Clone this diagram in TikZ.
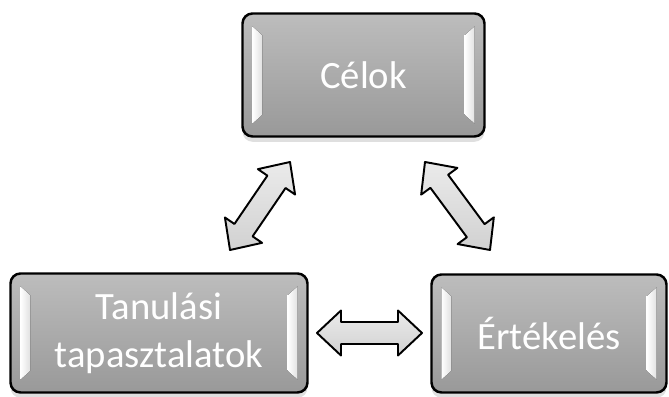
\documentclass[tikz,border=0pt]{standalone}
\usepackage{fontspec}
\setmainfont{Carlito}
\usepackage{tikz}
\usetikzlibrary{calc,shadows}

\newcommand{\arrhl}{0.48cm} % head length
\newcommand{\arrhw}{0.45cm} % half width of head
\newcommand{\arrsw}{0.22cm} % half width of shaft

% fat double arrow between two named points
\newcommand{\fatarrow}[2]{%
  \draw[fatarrow] (#1) -- ($(#1)!\arrhl!(#2)!\arrhw!90:(#2)$)
    -- ($(#1)!\arrhl!(#2)!\arrsw!90:(#2)$)
    -- ($(#2)!\arrhl!(#1)!\arrsw!-90:(#1)$)
    -- ($(#2)!\arrhl!(#1)!\arrhw!-90:(#1)$)
    -- (#2)
    -- ($(#2)!\arrhl!(#1)!\arrhw!90:(#1)$)
    -- ($(#2)!\arrhl!(#1)!\arrsw!90:(#1)$)
    -- ($(#1)!\arrhl!(#2)!\arrsw!-90:(#2)$)
    -- ($(#1)!\arrhl!(#2)!\arrhw!-90:(#2)$)
    -- cycle;}

% white bevel strips inside a box
\newcommand{\bevel}[1]{%
  \fill[left color=white, right color=black!12]
    ($(#1.north west)+(0.22,-0.28)$) -- ($(#1.north west)+(0.42,-0.46)$)
    -- ($(#1.south west)+(0.42,0.46)$) -- ($(#1.south west)+(0.22,0.28)$) -- cycle;
  \fill[left color=white, right color=black!12]
    ($(#1.north east)+(-0.22,-0.28)$) -- ($(#1.north east)+(-0.42,-0.46)$)
    -- ($(#1.south east)+(-0.42,0.46)$) -- ($(#1.south east)+(-0.22,0.28)$) -- cycle;}

\begin{document}
\begin{tikzpicture}[
            box/.style = {shape=rectangle, rounded corners=0.2cm,
                draw=black, line width=1.4pt,
                top color=black!26, bottom color=black!40,
                drop shadow={shadow xshift=0pt, shadow yshift=-3pt, opacity=0.25},
                text=white, align=center,
                font=\fontsize{22}{27.5}\selectfont}, % gray buttons
            fatarrow/.style = {draw=black, line width=1.1pt, line join=round,
                top color=black!8, bottom color=black!18} % block arrows
        ]
\useasboundingbox (0,0) rectangle (13.38,7.94);

\node[box, minimum width=4.84cm, minimum height=2.46cm] (celok) at (7.27,6.44) {Célok};
\node[box, minimum width=5.94cm, minimum height=2.38cm] (tanulas) at (3.18,1.28) {Tanulási\\tapasztalatok};
\node[box, minimum width=4.70cm, minimum height=2.36cm] (ertekeles) at (10.98,1.27) {Értékelés};

\foreach \b in {celok,tanulas,ertekeles}
  \bevel{\b};

\coordinate (bal1) at (4.60,2.94);
\coordinate (bal2) at (5.80,4.70);
\coordinate (jobb1) at (8.50,4.70);
\coordinate (jobb2) at (9.80,2.94);
\coordinate (lent1) at (6.34,1.28);
\coordinate (lent2) at (8.44,1.28);

\fatarrow{bal1}{bal2}
\fatarrow{jobb1}{jobb2}
\fatarrow{lent1}{lent2}
\end{tikzpicture}
\end{document}
